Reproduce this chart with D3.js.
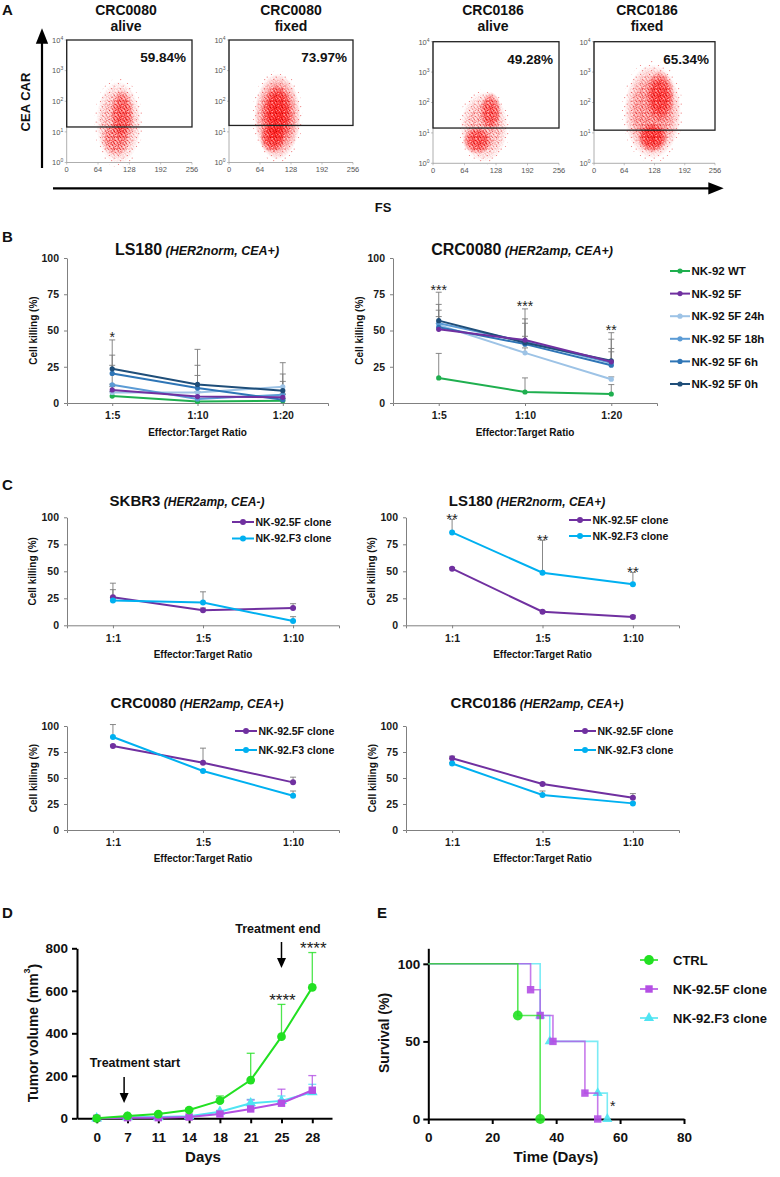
<!DOCTYPE html>
<html><head><meta charset="utf-8">
<script src="https://cdn.jsdelivr.net/npm/d3@7"></script>
<style>body{margin:0;background:#fff}svg{display:block}</style>
</head><body>
<script>
// ================= DATA =================
// Panel A (flow cytometry)
const flowTitles = ["CRC0080","CRC0080","CRC0186","CRC0186"];
const flowConditions = ["alive","fixed","alive","fixed"];
const flowPercents = ["59.84%","73.97%","49.28%","65.34%"];
const flowGateLog = [1.16, 1.21, 1.16, 1.09];
const flowXTicks = [0,64,128,192,256];
const flowYTicks = [0,1,2,3,4];
// cell clouds: [FS centre, log10 CEA centre, FS radius, log radius, relative density]
const flowClouds0080alive = [[106,1.3,46,1.35,0.5],[113,1.55,24,0.85,0.75],[100,0.75,30,0.55,0.55]];
const flowClouds0080fixed = [[100,1.5,48,1.4,0.8],[100,1.6,30,0.95,1.0],[90,0.8,26,0.5,0.85]];
const flowClouds0186alive = [[104,1.2,48,1.15,0.5],[117,1.7,22,0.65,0.8],[90,0.75,30,0.45,0.85]];
const flowClouds0186fixed = [[124,1.7,60,1.55,0.65],[140,2.2,30,0.85,0.9],[124,0.85,32,0.5,1.0]];

// Panel B
const bCategories = ["1:5","1:10","1:20"];
const bSeries = ["NK-92 WT","NK-92 5F","NK-92 5F 24h","NK-92 5F 18h","NK-92 5F 6h","NK-92 5F 0h"];
const bLS180Mean = [[4.8,1.1,1.6],[9.0,4.4,3.9],[7.3,7.3,11.2],[12.6,2.8,5.7],[20.4,10.3,2.3],[23.6,12.8,8.5]];
const bLS180Sd   = [[3,2,1.5],[4,3,2],[4,11.7,16.6],[13.4,5,9.2],[12.6,15.7,4],[19.9,24.2,11.5]];
const bLS180Sig  = ["*","",""];
const bCRC0080Mean = [[17.3,7.6,6.2],[50.8,43.4,28.4],[53.8,34.6,16.4],[55,42.3,27.7],[52.2,40.6,26.1],[56.8,41.6,29.1]];
const bCRC0080Sd   = [[16.9,9.7,6.5],[4,14.6,9.2],[10.2,3.4,1.6],[13,12.7,16.3],[7.4,5.4,9.2],[19.6,23.3,19.4]];
const bCRC0080Sig  = ["***","***","**"];

// Panel C
const cCategories = ["1:1","1:5","1:10"];
const cSeries = ["NK-92.5F clone","NK-92.F3 clone"];
const cSKBR3Mean = [[26,14,16],[23,21,4]];
const cSKBR3Sd   = [[13,2,4],[10,10,4]];
const cLS180Mean = [[52.4,12.6,7.7],[86,48.7,38]];
const cLS180Sd   = [[1,1,1.5],[12,30,11]];
const cLS180Sig  = ["**","**","**"];
const cCRC0080Mean = [[80.8,64.7,45.8],[89.4,56.7,33]];
const cCRC0080Sd   = [[1,14,5],[12,1,4.5]];
const cCRC0186Mean = [[69,44.2,31],[64,33.6,25.6]];
const cCRC0186Sd   = [[2,1,4],[1,3.9,1]];

// Panel D
const dDays = ["0","7","11","14","18","21","25","28"];
const dCtrl = [0,11,20,39,83,180,384,616];
const dCtrlErr = [3,5,6,8,22,126,152,164];
const d5F = [0,3,3,6,20,44,71,132];
const d5FErr = [2,2,3,3,6,42,66,69];
const dF3 = [0,5,6,10,31,71,82,123];
const dF3Err = [2,2,3,4,6,18,23,37];
const dSig = [{day:"25",text:"****"},{day:"28",text:"****"}];
const dNotes = [{day:"7",text:"Treatment start"},{day:"25",text:"Treatment end"}];
const dYTicks = [0,200,400,600,800];

// Panel E
const eGroups = ["CTRL","NK-92.5F clone","NK-92.F3 clone"];
const eCtrlTime = [0,28,35];       const eCtrlSurv = [100,66.7,0];
const e5FTime = [0,32,35,39,49,53]; const e5FSurv = [100,83.3,66.7,50,16.7,0];
const eF3Time = [0,35,38,53,56];    const eF3Surv = [100,66.7,50,16.7,0];
const eXTicks = [0,20,40,60,80];
const eYTicks = [0,50,100];

// ================= DRAWING =================
const W=780,H=1177;
const FONT='"Liberation Sans", Arial, Helvetica, sans-serif';
const svg=d3.select("body").append("svg").attr("width",W).attr("height",H);
svg.append("rect").attr("width",W).attr("height",H).attr("fill","#fff");
const defs=svg.append("defs");

function T(g,x,y,s,size,opt={}){
  const t=g.append("text").attr("x",x).attr("y",y).text(s)
    .attr("font-family",FONT).attr("font-size",size)
    .attr("font-weight",opt.weight||"bold").attr("fill",opt.fill||"#111")
    .attr("text-anchor",opt.anchor||"start");
  if(opt.style) t.attr("font-style",opt.style);
  if(opt.rotate) t.attr("transform",`rotate(${opt.rotate},${x},${y})`);
  if(opt.dy) t.attr("dy",opt.dy);
  return t;
}

// panel letters
[["A",2,15],["B",2,242],["C",2,490],["D",2,918],["E",377,918]].forEach(p=>T(svg,p[1],p[2],p[0],15));

// ---------- Panel A ----------
const fade=defs.append("radialGradient").attr("id","fade");
fade.append("stop").attr("offset","0%").attr("stop-color","#fff");
fade.append("stop").attr("offset","60%").attr("stop-color","#d0d0d0");
fade.append("stop").attr("offset","85%").attr("stop-color","#555");
fade.append("stop").attr("offset","100%").attr("stop-color","#000");
function pattern(id,size,pts,col,r){
  const p=defs.append("pattern").attr("id",id).attr("patternUnits","userSpaceOnUse").attr("width",size).attr("height",size);
  pts.forEach(q=>p.append("circle").attr("cx",q[0]).attr("cy",q[1]).attr("r",r).attr("fill",col));
}
pattern("dotsA",4,[[0.8,1.2],[3.1,0.5],[2.0,3.0]],"#ff0a0a",0.7);
pattern("dotsB",6,[[1.5,2.3],[4.6,1.0],[3.3,4.9],[5.6,4.0],[0.4,5.5]],"#c00000",0.65);
pattern("dotsC",3,[[0.7,0.9],[2.2,2.3]],"#ff1a1a",0.8);
pattern("dotsS",9,[[1.5,2.5],[6.2,5.1],[3.7,7.6]],"#e00000",0.6);

const flowBoxes=[[66.7,192,40,162.5],[229,353,40,162.5],[433,559,41.7,163.3],[594,715,41.7,163.3]];
const flowTitleX=[126,291,493,647];
const flowCloudSets=[flowClouds0080alive,flowClouds0080fixed,flowClouds0186alive,flowClouds0186fixed];
flowBoxes.forEach((b,i)=>{
  const [L,R,Tp,B]=b;
  const x=d3.scaleLinear().domain([0,256]).range([L,R]);
  const y=d3.scaleLinear().domain([0,4]).range([B,Tp]);
  const g=svg.append("g");
  T(g,flowTitleX[i],15,flowTitles[i],14,{anchor:"middle"});
  T(g,flowTitleX[i],31,flowConditions[i],14,{anchor:"middle"});
  flowCloudSets[i].forEach((c,j)=>{
    const cx=x(c[0]),cy=y(c[1]),rx=x(c[2])-x(0),ry=y(0)-y(c[3]);
    const id=`fm${i}_${j}`;
    const m=defs.append("mask").attr("id",id).attr("maskUnits","userSpaceOnUse")
      .attr("x",0).attr("y",0).attr("width",W).attr("height",H);
    m.append("ellipse").attr("cx",cx).attr("cy",cy).attr("rx",rx).attr("ry",ry).attr("fill","url(#fade)");
    const gg=g.append("g").attr("mask",`url(#${id})`);
    const e=(fill,op)=>gg.append("ellipse").attr("cx",cx).attr("cy",cy).attr("rx",rx).attr("ry",ry).attr("fill",fill).attr("opacity",op);
    e("#ff1a1a",0.3*c[4]);
    e("url(#dotsA)",c[4]);
    e("url(#dotsB)",c[4]);
    e("url(#dotsC)",Math.max(0,(c[4]-0.5)*2));
    if(j===0){
      g.append("ellipse").attr("cx",cx).attr("cy",cy).attr("rx",rx*1.08).attr("ry",ry*1.08)
        .attr("fill","url(#dotsS)").attr("opacity",0.55);
    }
  });
  g.append("line").attr("x1",L).attr("x2",L).attr("y1",Tp).attr("y2",B).attr("stroke","#999").attr("stroke-width",0.8);
  g.append("line").attr("x1",L).attr("x2",R).attr("y1",B).attr("y2",B).attr("stroke","#999").attr("stroke-width",0.8);
  flowYTicks.forEach(v=>{
    g.append("line").attr("x1",L-2).attr("x2",L).attr("y1",y(v)).attr("y2",y(v)).attr("stroke","#999").attr("stroke-width",0.6);
    const t=T(g,L-3.5,y(v)+2.8,"10",7.5,{anchor:"end",weight:"normal",fill:"#555"});
    t.append("tspan").attr("dy",-3).attr("font-size",5).text(v);
  });
  flowXTicks.forEach(v=>{
    g.append("line").attr("x1",x(v)).attr("x2",x(v)).attr("y1",B).attr("y2",B+2).attr("stroke","#999").attr("stroke-width",0.6);
    T(g,x(v),B+9.5,v,7.5,{anchor:"middle",weight:"normal",fill:"#555"});
  });
  g.append("rect").attr("x",L).attr("y",Tp).attr("width",R-L).attr("height",y(flowGateLog[i])-Tp)
    .attr("fill","none").attr("stroke","#222").attr("stroke-width",1.3);
  T(g,R-6,Tp+22,flowPercents[i],13.5,{anchor:"end"});
});
defs.append("marker").attr("id","arrA").attr("viewBox","0 0 10 10").attr("refX",5).attr("refY",5)
  .attr("markerWidth",7).attr("markerHeight",7).attr("orient","auto")
  .append("path").attr("d","M0,1 L10,5 L0,9 z").attr("fill","#000");
svg.append("line").attr("x1",42).attr("x2",42).attr("y1",168).attr("y2",36).attr("stroke","#000").attr("stroke-width",2.2).attr("marker-end","url(#arrA)");
svg.append("line").attr("x1",53).attr("x2",716).attr("y1",188.3).attr("y2",188.3).attr("stroke","#000").attr("stroke-width",2.2).attr("marker-end","url(#arrA)");
T(svg,30,102,"CEA CAR",13,{anchor:"middle",rotate:-90});
T(svg,383,212,"FS",13,{anchor:"middle"});

// ---------- Panels B & C ----------
function killChart(o){
  const x=d3.scalePoint().domain(o.cats).range([o.xl,o.xr]).padding(o.pad);
  const y=d3.scaleLinear().domain([0,100]).range([o.y0,o.y100]);
  const g=svg.append("g");
  const ya=g.append("g").attr("transform",`translate(${o.xl},0)`)
    .call(d3.axisLeft(y).tickValues([0,25,50,75,100]).tickSize(3).tickSizeOuter(0).tickPadding(5));
  const xa=g.append("g").attr("transform",`translate(0,${o.y0})`)
    .call(d3.axisBottom(x).tickSize(3).tickSizeOuter(3).tickPadding(o.xpad));
  [ya,xa].forEach(a=>{
    a.selectAll("path,line").attr("stroke","#808080");
    a.selectAll("text").attr("font-family",FONT).attr("font-weight","bold").attr("font-size",o.tickFs).attr("fill","#1a1a1a");
  });
  T(g,o.xl-34,(o.y0+o.y100)/2,"Cell killing (%)",o.labFs,{anchor:"middle",rotate:-90,dy:"0.35em"});
  T(g,x(o.cats[1]),o.xlabY,"Effector:Target Ratio",o.labFs,{anchor:"middle"});
  const tt=T(g,o.titleX,o.titleY,o.title,o.titleFs,{anchor:"middle"});
  tt.append("tspan").attr("font-size",o.subFs).attr("font-style","italic").text(" ("+o.sub+")");
  o.series.forEach(s=>{
    s.mean.forEach((v,k)=>{
      const cx=x(o.cats[k]),y1=y(v),y2=y(v+s.sd[k]);
      g.append("line").attr("x1",cx).attr("x2",cx).attr("y1",y1).attr("y2",y2).attr("stroke","#7a7a7a").attr("stroke-width",0.9);
      g.append("line").attr("x1",cx-3).attr("x2",cx+3).attr("y1",y2).attr("y2",y2).attr("stroke","#7a7a7a").attr("stroke-width",0.9);
    });
  });
  const order=o.order||o.series.map((d,i)=>i);
  order.forEach(i=>{
    const s=o.series[i];
    g.append("path").datum(s.mean).attr("fill","none").attr("stroke",s.color).attr("stroke-width",o.lw)
      .attr("d",d3.line().x((d,k)=>x(o.cats[k])).y(d=>y(d)));
    g.selectAll(null).data(s.mean).enter().append("circle")
      .attr("cx",(d,k)=>x(o.cats[k])).attr("cy",d=>y(d)).attr("r",o.r).attr("fill",s.color);
  });
  if(o.sig){
    o.sig.forEach((s,k)=>{
      if(!s) return;
      const top=d3.max(o.series,q=>q.mean[k]+q.sd[k]);
      T(g,x(o.cats[k]),y(top)+o.sigOff,s,o.sigFs,{anchor:"middle",weight:"normal",fill:"#222"});
    });
  }
  if(o.legend){
    const L=o.legend;
    o.series.forEach((s,i)=>{
      const ly=L.y+i*L.dy;
      g.append("line").attr("x1",L.x).attr("x2",L.x+L.w).attr("y1",ly).attr("y2",ly).attr("stroke",s.color).attr("stroke-width",o.lw);
      g.append("circle").attr("cx",L.x+L.w/2).attr("cy",ly).attr("r",o.r).attr("fill",s.color);
      T(g,L.x+L.w+1.5,ly,s.name,L.fs,{dy:"0.36em"});
    });
  }
}
const bColors=["#1faf4f","#7030a0","#9dc3e6","#5b9bd5","#2e75b6","#1f4e79"];
const cColors=["#7030a0","#00b0f0"];
const mk=(names,means,sds,cols)=>names.map((n,i)=>({name:n,mean:means[i],sd:sds[i],color:cols[i]}));
const bOrder=[0,2,3,4,5,1];
killChart({cats:bCategories,xl:67,xr:328,pad:0.53,y0:403,y100:258,xpad:6,xlabY:436,tickFs:10.5,labFs:10,
  title:"LS180",sub:"HER2norm, CEA+",titleX:197,titleY:255,titleFs:16,subFs:12.5,lw:2,r:2.6,
  series:mk(bSeries,bLS180Mean,bLS180Sd,bColors),order:bOrder,sig:bLS180Sig,sigOff:2.5,sigFs:14});
killChart({cats:bCategories,xl:393,xr:657,pad:0.53,y0:403,y100:258,xpad:6,xlabY:436,tickFs:10.5,labFs:10,
  title:"CRC0080",sub:"HER2amp, CEA+",titleX:522,titleY:255,titleFs:16,subFs:12.5,lw:2,r:2.6,
  series:mk(bSeries,bCRC0080Mean,bCRC0080Sd,bColors),order:bOrder,sig:bCRC0080Sig,sigOff:2.5,sigFs:14,
  legend:{x:670,y:271,dy:22.6,w:20,fs:11.5}});
const cCommon={cats:cCategories,pad:0.51,tickFs:10.5,labFs:10,titleFs:15,subFs:12,lw:2,r:3,xpad:6};
killChart(Object.assign({},cCommon,{xl:67,xr:339,y0:625.3,y100:517.3,xlabY:658,
  title:"SKBR3",sub:"HER2amp, CEA-",titleX:187,titleY:506,
  series:mk(cSeries,cSKBR3Mean,cSKBR3Sd,cColors),legend:{x:232,y:522,dy:16.5,w:22,fs:10.5}}));
killChart(Object.assign({},cCommon,{xl:406,xr:679,y0:625.3,y100:517.3,xlabY:658,
  title:"LS180",sub:"HER2norm, CEA+",titleX:527,titleY:506,
  series:mk(cSeries,cLS180Mean,cLS180Sd,cColors),sig:cLS180Sig,sigOff:5,sigFs:15,legend:{x:569,y:520,dy:16,w:22,fs:10.5}}));
killChart(Object.assign({},cCommon,{xl:67,xr:339,y0:830,y100:726,xlabY:862,
  title:"CRC0080",sub:"HER2amp, CEA+",titleX:197,titleY:708,
  series:mk(cSeries,cCRC0080Mean,cCRC0080Sd,cColors),legend:{x:235,y:731,dy:19,w:22,fs:10.5}}));
killChart(Object.assign({},cCommon,{xl:406,xr:679,y0:830,y100:726,xlabY:862,
  title:"CRC0186",sub:"HER2amp, CEA+",titleX:537,titleY:708,
  series:mk(cSeries,cCRC0186Mean,cCRC0186Sd,cColors),legend:{x:574,y:731,dy:19,w:22,fs:10.5}}));

// ---------- Panel D ----------
const green="#22e022", purple="#b44fe4", cyan="#4fe4f2";
function symbolPath(type,size){return d3.symbol().type(type).size(size)();}
(function(){
  const g=svg.append("g");
  const x=d3.scalePoint().domain(dDays).range([77,332]).padding(0.64);
  const y=d3.scaleLinear().domain([0,800]).range([1118.3,948.3]);
  const ya=g.append("g").attr("transform","translate(77,0)").call(d3.axisLeft(y).tickValues(dYTicks).tickSize(5).tickSizeOuter(0).tickPadding(4));
  const xa=g.append("g").attr("transform","translate(0,1118.3)").call(d3.axisBottom(x).tickSize(5).tickSizeOuter(0).tickPadding(9));
  [ya,xa].forEach(a=>{
    a.selectAll("path,line").attr("stroke","#000").attr("stroke-width",2);
    a.selectAll("text").attr("font-family",FONT).attr("font-weight","bold").attr("font-size",13.5).attr("fill","#111");
  });
  const yl=T(g,33,1033,"Tumor volume (mm",14,{anchor:"middle",rotate:-90,dy:"0.35em"});
  yl.append("tspan").attr("font-size",9).attr("dy","-0.9em").text("3");
  yl.append("tspan").attr("dy","0.65em").text(")");
  T(g,203,1162,"Days",15,{anchor:"middle"});
  const series=[{v:dF3,e:dF3Err,c:cyan,s:d3.symbolTriangle,size:50},
                {v:d5F,e:d5FErr,c:purple,s:d3.symbolSquare,size:55},
                {v:dCtrl,e:dCtrlErr,c:green,s:d3.symbolCircle,size:60}];
  series.forEach(s=>{
    s.v.forEach((v,k)=>{
      const cx=x(dDays[k]),y2=y(v+s.e[k]);
      g.append("line").attr("x1",cx).attr("x2",cx).attr("y1",y(v)).attr("y2",y2).attr("stroke",s.c).attr("stroke-width",1.3).attr("opacity",0.8);
      g.append("line").attr("x1",cx-4).attr("x2",cx+4).attr("y1",y2).attr("y2",y2).attr("stroke",s.c).attr("stroke-width",1.3).attr("opacity",0.8);
    });
  });
  series.forEach(s=>{
    g.append("path").datum(s.v).attr("fill","none").attr("stroke",s.c).attr("stroke-width",2)
      .attr("d",d3.line().x((d,k)=>x(dDays[k])).y(d=>y(d)));
    g.selectAll(null).data(s.v).enter().append("path")
      .attr("transform",(d,k)=>`translate(${x(dDays[k])},${y(d)})`)
      .attr("d",symbolPath(s.s,s.size)).attr("fill",s.c);
  });
  dSig.forEach(sg=>{
    const k=dDays.indexOf(sg.day);
    T(g,x(sg.day)+1,y(dCtrl[k]+dCtrlErr[k])+1.5,sg.text,17,{anchor:"middle",weight:"normal",fill:"#222"});
  });
  dNotes.forEach((n,i)=>{
    const ax=x(n.day)-(i===0?3.4:0);
    const topY=i===0?1077:942, len=26;
    T(g,i===0?135:278,i===0?1067:933,n.text,12.5,{anchor:"middle"});
    g.append("line").attr("x1",ax).attr("x2",ax).attr("y1",topY).attr("y2",topY+len-8).attr("stroke","#000").attr("stroke-width",1.5);
    g.append("path").attr("d",`M${ax-4.5},${topY+len-10}L${ax+4.5},${topY+len-10}L${ax},${topY+len}Z`).attr("fill","#000");
  });
})();

// ---------- Panel E ----------
(function(){
  const g=svg.append("g");
  const x=d3.scaleLinear().domain([0,80]).range([428.3,684]);
  const y=d3.scaleLinear().domain([0,110]).range([1119,948.3]);
  const ya=g.append("g").attr("transform","translate(428.3,0)").call(d3.axisLeft(y).tickValues(eYTicks).tickSize(5).tickSizeOuter(0).tickPadding(3));
  const xa=g.append("g").attr("transform","translate(0,1119)").call(d3.axisBottom(x).tickValues(eXTicks).tickSize(5).tickSizeOuter(0).tickPadding(8));
  [ya,xa].forEach(a=>{
    a.selectAll("path,line").attr("stroke","#000").attr("stroke-width",2);
    a.selectAll("text").attr("font-family",FONT).attr("font-weight","bold").attr("font-size",13.5).attr("fill","#111");
  });
  T(g,384,1033,"Survival (%)",14,{anchor:"middle",rotate:-90,dy:"0.35em"});
  T(g,556,1162,"Time (Days)",15,{anchor:"middle"});
  const series=[{t:eCtrlTime,s:eCtrlSurv,c:green,sym:d3.symbolCircle,size:75},
                {t:e5FTime,s:e5FSurv,c:purple,sym:d3.symbolSquare,size:55},
                {t:eF3Time,s:eF3Surv,c:cyan,sym:d3.symbolTriangle,size:45}];
  const order=[2,1,0];
  order.forEach(i=>{
    const s=series[i];
    const pts=s.t.map((t,k)=>[t,s.s[k]]);
    g.append("path").datum(pts).attr("fill","none").attr("stroke",s.c).attr("stroke-width",1.6).attr("stroke-opacity",0.75)
      .attr("d",d3.line().x(d=>x(d[0])).y(d=>y(d[1])).curve(d3.curveStepAfter));
    g.selectAll(null).data(pts.slice(1)).enter().append("path")
      .attr("transform",d=>`translate(${x(d[0])},${y(d[1])})`)
      .attr("d",symbolPath(s.sym,s.size)).attr("fill",s.c).attr("opacity",0.9);
  });
  T(g,x(eF3Time[eF3Time.length-1])+5.5,y(0)-8,"*",14,{anchor:"middle",weight:"normal",fill:"#222"});
  series.forEach((s,i)=>{
    const ly=960+i*29;
    g.append("line").attr("x1",640).attr("x2",658).attr("y1",ly).attr("y2",ly).attr("stroke",s.c).attr("stroke-width",1.6);
    g.append("path").attr("transform",`translate(649,${ly})`).attr("d",symbolPath(s.sym,s.size)).attr("fill",s.c);
    T(g,673,ly,eGroups[i],13,{dy:"0.36em"});
  });
})();
</script>
</body></html>
